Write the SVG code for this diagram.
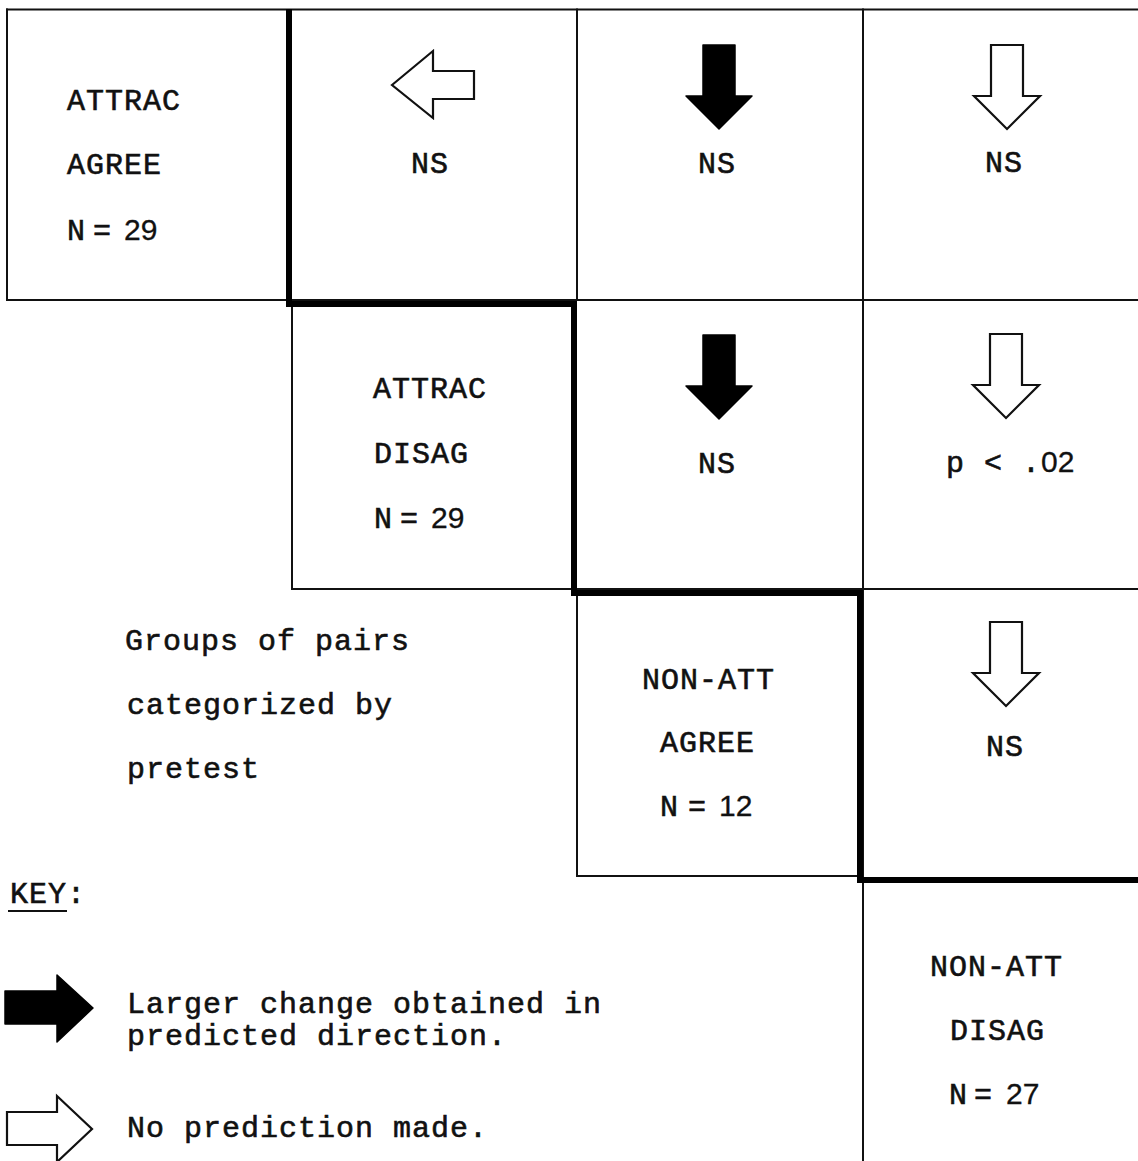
<svg xmlns="http://www.w3.org/2000/svg" width="1138" height="1161" viewBox="0 0 1138 1161">
  <style>
    .grid { stroke: #111; stroke-width: 2; fill: none; stroke-linecap: square; }
    .bold { stroke: #000; stroke-width: 6; fill: none; stroke-linejoin: miter; }
    .t { font-family: "Liberation Mono", "Courier New", monospace; font-size: 30px; letter-spacing: 1px; fill: #111; stroke: #111; stroke-width: 0.6; }
    .mid { text-anchor: middle; }
    .num { font-family: "Liberation Sans", Arial, sans-serif; letter-spacing: 0; stroke-width: 0.3; }
    .hollow { fill: #fff; stroke: #111; stroke-width: 2.2; stroke-linejoin: miter; }
    .solid { fill: #000; stroke: #000; stroke-width: 1.5; stroke-linejoin: round; }
  </style>
  <defs>
    <!-- downward block arrow, origin at the top centre of the shaft -->
    <polygon id="down" points="-16,0 16,0 16,51 33,51 0,84 -33,51 -16,51"/>
  </defs>
  <rect width="1138" height="1161" fill="#fff"/>

  <!-- table rules and the bold staircase separating group cells -->
  <g id="connectors">
    <line class="grid" x1="7" y1="9.5" x2="1138" y2="9.5"/>
    <line class="grid" x1="7" y1="9.5" x2="7" y2="300"/>
    <line class="grid" x1="7" y1="300" x2="1138" y2="300"/>
    <line class="grid" x1="577" y1="9.5" x2="577" y2="300"/>
    <line class="grid" x1="863" y1="9.5" x2="863" y2="1161"/>
    <line class="grid" x1="292" y1="304" x2="292" y2="589"/>
    <line class="grid" x1="292" y1="589" x2="1138" y2="589"/>
    <line class="grid" x1="577" y1="593" x2="577" y2="876"/>
    <line class="grid" x1="577" y1="876" x2="860" y2="876"/>
    <path class="bold" d="M289 9 V304 H574 V593 H860 V880 H1138"/>
  </g>

  <g id="attrac-agree">
    <text class="t" x="67" y="110">ATTRAC</text>
    <text class="t" x="67" y="174">AGREE</text>
    <text class="t" y="240"><tspan x="67">N</tspan> <tspan x="93">=</tspan> <tspan class="num" x="124">29</tspan></text>
  </g>

  <g id="cell-r1c2">
    <polygon class="hollow" points="392,85 433,51 433,71 474,71 474,99 433,99 433,118"/>
    <text class="t mid" x="430" y="173">NS</text>
  </g>

  <g id="cell-r1c3">
    <use href="#down" class="solid" x="719" y="45"/>
    <text class="t mid" x="717" y="173">NS</text>
  </g>

  <g id="cell-r1c4">
    <use href="#down" class="hollow" x="1007" y="45"/>
    <text class="t mid" x="1004" y="172">NS</text>
  </g>

  <g id="attrac-disag">
    <text class="t" x="373" y="398">ATTRAC</text>
    <text class="t" x="374" y="463">DISAG</text>
    <text class="t" y="528"><tspan x="374">N</tspan> <tspan x="400">=</tspan> <tspan class="num" x="431">29</tspan></text>
  </g>

  <g id="cell-r2c3">
    <use href="#down" class="solid" x="719" y="335"/>
    <text class="t mid" x="717" y="473">NS</text>
  </g>

  <g id="cell-r2c4">
    <use href="#down" class="hollow" x="1006" y="334"/>
    <text class="t" x="946" y="472">p &lt; .<tspan class="num">02</tspan></text>
  </g>

  <g id="caption">
    <text class="t" x="125" y="650">Groups of pairs</text>
    <text class="t" x="127" y="714">categorized by</text>
    <text class="t" x="127" y="778">pretest</text>
  </g>

  <g id="nonatt-agree">
    <text class="t" x="642" y="689">NON-ATT</text>
    <text class="t" x="660" y="752">AGREE</text>
    <text class="t" y="816"><tspan x="660">N</tspan> <tspan x="688">=</tspan> <tspan class="num" x="719">12</tspan></text>
  </g>

  <g id="cell-r3c4">
    <use href="#down" class="hollow" x="1006" y="622"/>
    <text class="t mid" x="1005" y="756">NS</text>
  </g>

  <g id="nonatt-disag">
    <text class="t" x="930" y="976">NON-ATT</text>
    <text class="t" x="950" y="1040">DISAG</text>
    <text class="t" y="1104"><tspan x="949">N</tspan> <tspan x="974">=</tspan> <tspan class="num" x="1006">27</tspan></text>
  </g>

  <g id="key">
    <text class="t" x="10" y="903">KEY:</text>
    <line x1="8" y1="911" x2="67" y2="911" stroke="#111" stroke-width="2"/>
    <polygon class="solid" points="5,991 57,991 57,975 93,1008 57,1042 57,1024 5,1024"/>
    <text class="t" x="127" y="1013">Larger change obtained in</text>
    <text class="t" x="127" y="1045">predicted direction.</text>
    <polygon class="hollow" points="7,1112 57,1112 57,1096 92,1129 57,1162 57,1145 7,1145"/>
    <text class="t" x="127" y="1137">No prediction made.</text>
  </g>
</svg>
